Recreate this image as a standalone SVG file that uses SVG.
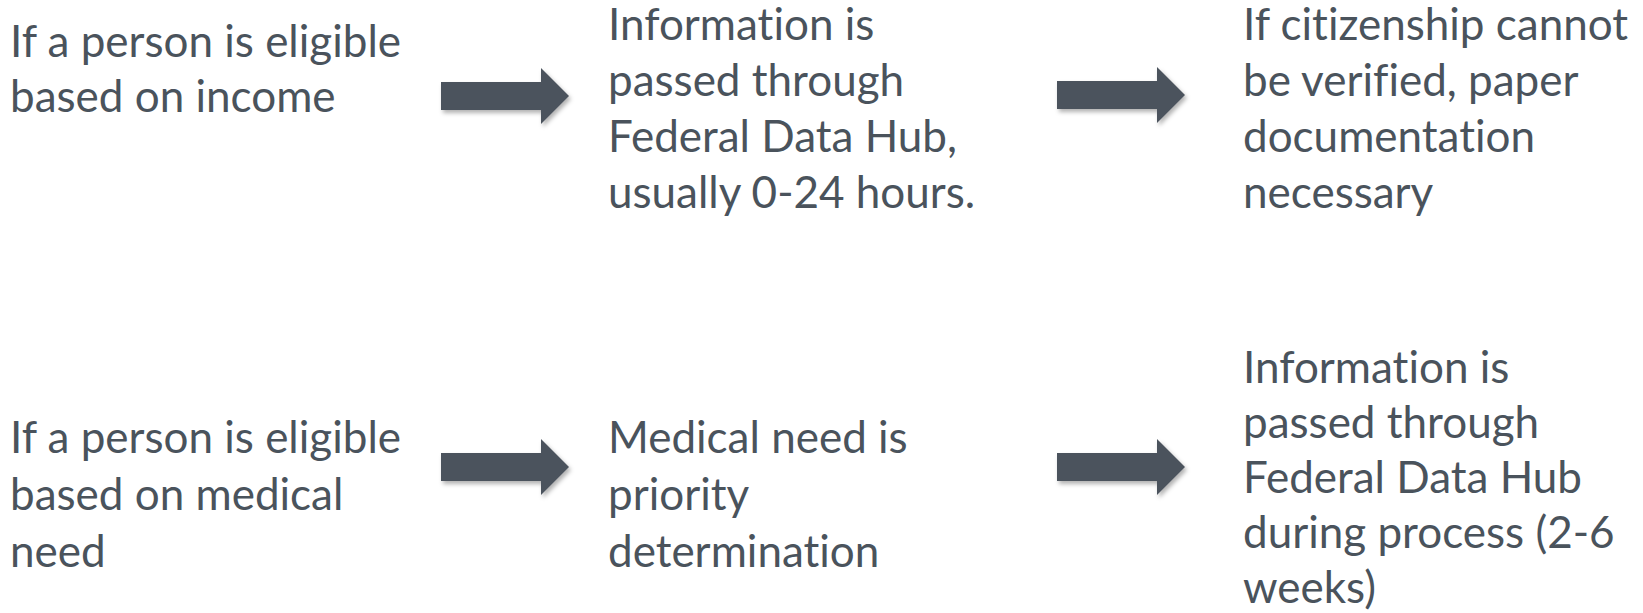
<svg xmlns="http://www.w3.org/2000/svg" width="1643" height="613" viewBox="0 0 1643 613">
  <defs>
    <style>
      .label { font-family: Lato, "Open Sans", "Liberation Sans", sans-serif; font-size: 44px; fill: #4a535c; font-variant-ligatures: none; font-feature-settings: "liga" 0, "clig" 0; }
      .arrow { fill: #4b535d; filter: url(#shadow); }
    </style>
    <filter id="shadow" x="-20%" y="-30%" width="140%" height="170%">
      <feDropShadow dx="2" dy="3" stdDeviation="2" flood-color="#000" flood-opacity="0.3"/>
    </filter>
    <!-- block arrow pointing right, origin at tail centre -->
    <path id="block-arrow" d="M0,-14 H100 V-28 L128,0 L100,28 V14 H0 Z"/>
  </defs>
  <rect width="1643" height="613" fill="#ffffff"/>

  <g id="connectors">
    <use href="#block-arrow" class="arrow" x="441" y="96"/>
    <use href="#block-arrow" class="arrow" x="1057" y="95"/>
    <use href="#block-arrow" class="arrow" x="441" y="467"/>
    <use href="#block-arrow" class="arrow" x="1057" y="467"/>
  </g>

  <g id="income-eligible">
    <text class="label" x="10" y="57">
      <tspan x="10" y="57">If a person is eligible</tspan>
      <tspan x="10" y="112">based on income</tspan>
    </text>
  </g>

  <g id="hub-fast">
    <text class="label" x="608" y="40">
      <tspan x="608" y="40">Information is</tspan>
      <tspan x="608" y="96">passed through</tspan>
      <tspan x="608" y="152">Federal Data Hub,</tspan>
      <tspan x="608" y="208">usually 0-24 hours.</tspan>
    </text>
  </g>

  <g id="paper-docs">
    <text class="label" x="1243" y="40">
      <tspan x="1243" y="40">If citizenship cannot</tspan>
      <tspan x="1243" y="96">be verified, paper</tspan>
      <tspan x="1243" y="152">documentation</tspan>
      <tspan x="1243" y="208">necessary</tspan>
    </text>
  </g>

  <g id="medical-eligible">
    <text class="label" x="10" y="453">
      <tspan x="10" y="453">If a person is eligible</tspan>
      <tspan x="10" y="510">based on medical</tspan>
      <tspan x="10" y="567">need</tspan>
    </text>
  </g>

  <g id="medical-priority">
    <text class="label" x="608" y="453">
      <tspan x="608" y="453">Medical need is</tspan>
      <tspan x="608" y="510">priority</tspan>
      <tspan x="608" y="567">determination</tspan>
    </text>
  </g>

  <g id="hub-slow">
    <text class="label" x="1243" y="383">
      <tspan x="1243" y="383">Information is</tspan>
      <tspan x="1243" y="438">passed through</tspan>
      <tspan x="1243" y="493">Federal Data Hub</tspan>
      <tspan x="1243" y="548">during process (2-6</tspan>
      <tspan x="1243" y="603">weeks)</tspan>
    </text>
  </g>
</svg>
